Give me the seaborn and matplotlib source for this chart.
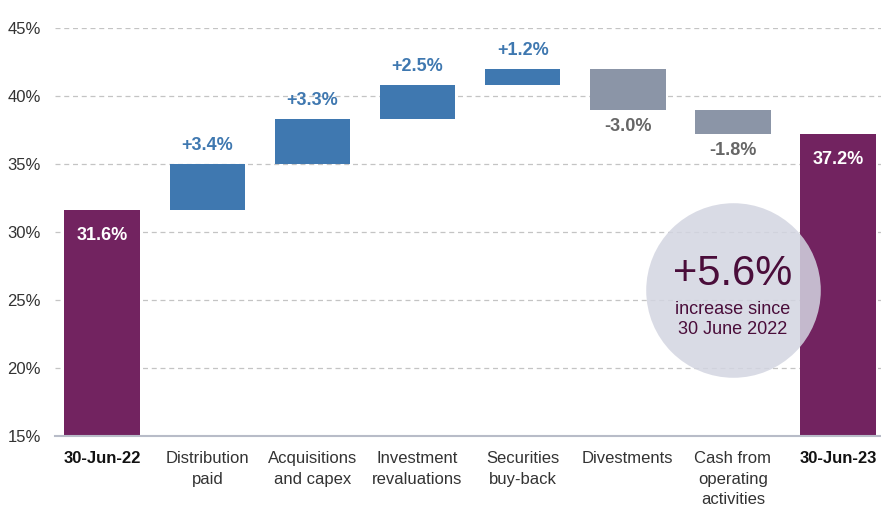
import matplotlib
matplotlib.use("Agg")
import matplotlib.pyplot as plt
import seaborn as sns
import pandas as pd

# data
categories = ["30-Jun-22", "Distribution\npaid", "Acquisitions\nand capex",
              "Investment\nrevaluations", "Securities\nbuy-back", "Divestments",
              "Cash from\noperating\nactivities", "30-Jun-23"]
start_value = 31.6
changes = [3.4, 3.3, 2.5, 1.2, -3.0, -1.8]
end_value = 37.2
change_labels = ["+3.4%", "+3.3%", "+2.5%", "+1.2%", "-3.0%", "-1.8%"]
total_labels = ["31.6%", "37.2%"]
circle_big = "+5.6%"
circle_small = "increase since\n30 June 2022"

purple = "#722360"
blue = "#3f78b0"
grey = "#8b95a7"

# build waterfall bottoms / heights
bottoms = [0]
heights = [start_value]
level = start_value
for c in changes:
    bottoms.append(level if c > 0 else level + c)
    heights.append(abs(c))
    level += c
bottoms.append(0)
heights.append(end_value)
colors = [purple] + [blue if c > 0 else grey for c in changes] + [purple]

df = pd.DataFrame({"cat": categories, "height": heights})

sns.set_style("white")
plt.rcParams["font.family"] = ["Liberation Sans", "DejaVu Sans"]

fig = plt.figure(figsize=(8.81, 5.08), dpi=100)
ax = fig.add_axes([0.0624, 0.1417, 0.9376, 0.8032])

sns.barplot(data=df, x="cat", y="height", bottom=bottoms, width=0.72,
            color=blue, saturation=1, errorbar=None, ax=ax, zorder=2)
for patch, col in zip(ax.patches, colors):
    patch.set_facecolor(col)
    patch.set_edgecolor("none")

ax.set_ylim(15, 45)
ax.set_xlim(-0.45, 7.41)
ax.set_yticks([15, 20, 25, 30, 35, 40, 45])
ax.set_yticklabels([f"{v}%" for v in [15, 20, 25, 30, 35, 40, 45]])
for y in [20, 25, 30, 35, 40, 45]:
    ax.axhline(y, color="#c4c4c4", lw=0.9, ls=(0, (4, 3)), zorder=0)

for s in ["top", "right", "left"]:
    ax.spines[s].set_visible(False)
ax.spines["bottom"].set_color("#b8bcc8")
ax.spines["bottom"].set_linewidth(1.5)
ax.set_xlabel("")
ax.set_ylabel("")
ax.tick_params(axis="both", length=0, labelsize=12, colors="#333333")
ax.tick_params(axis="x", pad=11)
ax.tick_params(axis="y", pad=10)
for i, lab in enumerate(ax.get_xticklabels()):
    lab.set_linespacing(1.45)
    if i in (0, len(categories) - 1):
        lab.set_fontweight("bold")
        lab.set_color("#111111")

# value labels
for i, (c, lab) in enumerate(zip(changes, change_labels), start=1):
    b, h = bottoms[i], heights[i]
    if c > 0:
        ax.annotate(lab, (i, b + h), xytext=(0, 7), textcoords="offset points",
                    ha="center", va="bottom", color=blue, fontsize=13, fontweight="bold")
    else:
        ax.annotate(lab, (i, b), xytext=(0, -6), textcoords="offset points",
                    ha="center", va="top", color="#666666", fontsize=13, fontweight="bold")
for i, lab in zip([0, len(categories) - 1], total_labels):
    ax.annotate(lab, (i, heights[i]), xytext=(0, -12), textcoords="offset points",
                ha="center", va="top", color="white", fontsize=13, fontweight="bold")

# circle callout
ax.scatter([6.0], [25.7], s=15800, color="#d3d5e1", alpha=0.85, linewidths=0, zorder=3)
ax.text(6.0, 26.9, circle_big, ha="center", va="center", fontsize=30,
        color="#4a0d3a", zorder=4)
ax.text(6.0, 23.55, circle_small, ha="center", va="center", fontsize=13,
        color="#4a0d3a", linespacing=1.2, zorder=4)

fig.savefig("out.png", dpi=100)
